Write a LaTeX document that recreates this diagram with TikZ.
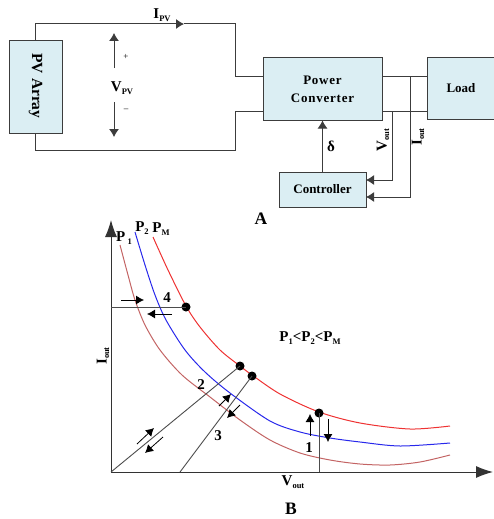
\documentclass[tikz,border=0pt]{standalone}
\usepackage{fontspec}
\setmainfont{Liberation Serif}
\usetikzlibrary{arrows.meta}
\definecolor{boxfill}{RGB}{219,238,243}
\definecolor{wirec}{RGB}{60,60,60}
\definecolor{pmc}{RGB}{238,50,50}
\definecolor{ptwo}{RGB}{40,40,235}
\definecolor{pone}{RGB}{195,100,100}
\newcommand\mysub[1]{\raisebox{-0.35ex}{\fontsize{8.5}{9}\selectfont #1}}
\begin{document}
\begin{tikzpicture}[x=1pt,y=-1pt,
  wire/.style={draw=wirec, line width=1pt},
  blk/.style={draw=wirec, fill=boxfill, line width=1pt, font=\bfseries\fontsize{13}{18}\selectfont, align=center, inner sep=0pt},
  arr/.style={-{Latex[length=8pt,width=10pt]}},
  bigarr/.style={-{Latex[length=17pt,width=12pt]}},
  sarr/.style={draw=black, line width=0.8pt, -{Latex[length=8pt,width=9pt]}},
  lbl/.style={font=\bfseries\fontsize{15}{17}\selectfont, inner sep=0pt},
  big/.style={font=\bfseries\fontsize{17.5}{20}\selectfont, inner sep=0pt},
  dot/.style={circle, fill=black, inner sep=0pt, minimum size=9pt},
  gline/.style={draw=black!70, line width=0.9pt},
  curve/.style={line width=1pt}]
\useasboundingbox (0,0) rectangle (493,519);

% ---------- Part A ----------
\node[blk, minimum width=53pt, minimum height=92pt] (pv) at (35.5,87) {};
\node[font=\bfseries\fontsize{15.5}{18}\selectfont, rotate=-90] (pvt) at (35.5,86) {PV Array};
\node[blk, minimum width=119pt, minimum height=62pt] (pc) at (322.5,89) {\addfontfeature{LetterSpace=6}Power\\\addfontfeature{LetterSpace=6}Converter};
\node[blk, minimum width=68pt, minimum height=61pt] (load) at (461,88.5) {Load};
\node[blk, minimum width=87pt, minimum height=35pt] (ctrl) at (322.5,189.5) {Controller};

\coordinate (t1) at (35.5,24);
\coordinate (ti) at (184,24);
\coordinate (t2) at (235,24);
\coordinate (t3) at (235,76);
\coordinate (t4) at (263,76);
\coordinate (b1) at (35.5,150);
\coordinate (b2) at (235,150);
\coordinate (b3) at (235,111);
\coordinate (b4) at (263,111);
\draw[wire, arr] (pv.north) -- (t1) -- (ti);
\draw[wire] (ti) -- (t2) -- (t3) -- (t4);
\draw[wire] (pv.south) -- (b1) -- (b2) -- (b3) -- (b4);

\node[lbl] (ipv) at (162,15) {I\mysub{PV}};
\coordinate (vu1) at (114,68);
\coordinate (vu2) at (114,33);
\coordinate (vd1) at (114,102);
\coordinate (vd2) at (114,137);
\draw[wire, arr] (vu1) -- (vu2);
\draw[wire, arr] (vd1) -- (vd2);
\node[font=\fontsize{9}{10}\selectfont] (plus) at (126,57) {+};
\node[lbl] (vpv) at (122,88) {V\mysub{PV}};
\node[font=\fontsize{9}{10}\selectfont] (minus) at (126,110) {--};

\coordinate (o1) at (382,76);
\coordinate (o2) at (382,111);
\coordinate (l1) at (427,76);
\coordinate (l2) at (427,111);
\draw[wire] (o1) -- (l1);
\draw[wire] (o2) -- (l2);
\coordinate (vt) at (392,111);
\coordinate (vc) at (366,180);
\coordinate (it) at (410,76);
\coordinate (ic) at (366,197);
\draw[wire, arr] (vt) |- (vc);
\draw[wire, arr] (it) |- (ic);
\draw[wire, arr] (ctrl.north) -- (pc.south);
\node[lbl, rotate=90] (voutl) at (383,140) {V\mysub{out}};
\node[lbl, rotate=90] (ioutl) at (418,137) {I\mysub{out}};
\node[lbl] (delta) at (331,146) {δ};
\node[big] (A) at (261,219) {A};

% ---------- Part B ----------
\coordinate (O) at (111,472);
\coordinate (ytip) at (111,220);
\coordinate (xtip) at (493,472);
\draw[line width=1pt, draw=black!80, bigarr] (O) -- (ytip);
\draw[line width=1pt, draw=black!80, bigarr] (O) -- (xtip);

\draw[curve, pone] plot[smooth] coordinates {(120,245) (128,275) (135,300) (145,325) (160,350) (182,375) (210,397) (240,420) (270,440) (300,453) (330,460) (360,464) (390,465) (420,462) (450,455)};
\draw[curve, ptwo] plot[smooth] coordinates {(135,232) (145,265) (155,295) (166,320) (185,350) (205,372) (230,393) (270,421) (300,432) (330,438) (360,442) (400,446) (450,443)};
\draw[curve, pmc] plot[smooth] coordinates {(153,237) (168,270) (186,306) (200,327) (220,350) (240,366) (252,375) (280,394) (319,412) (360,423) (410,429) (450,426)};

\node[lbl] (p1l) at (124,238) {P\,\mysub{1}};
\node[lbl] (p2l) at (142,228) {P\mysub{2}};
\node[lbl] (pml) at (161,229) {P\mysub{M}};

\node[dot] (d4) at (186,307) {};
\node[dot] (d2) at (240,366) {};
\node[dot] (d3) at (252,376) {};
\node[dot] (d1) at (319,413) {};
\coordinate (yv) at (111,307);
\coordinate (q) at (180,472);
\coordinate (xv) at (319,472);
\draw[gline] (yv) -- (d4.center);
\draw[gline] (O) -- (d2.center);
\draw[gline] (q) -- (d3.center);
\draw[gline] (d1.center) -- (xv);

\coordinate (a1s) at (121,300); \coordinate (a1e) at (144,300);
\coordinate (a2s) at (172,314); \coordinate (a2e) at (147,314);
\coordinate (a3s) at (137,444); \coordinate (a3e) at (154,428);
\coordinate (a4s) at (163,437); \coordinate (a4e) at (145,453);
\coordinate (a5s) at (219,406); \coordinate (a5e) at (231,394);
\coordinate (a6s) at (240,405); \coordinate (a6e) at (227,418);
\coordinate (a7s) at (310,436); \coordinate (a7e) at (310,414);
\coordinate (a8s) at (328,419); \coordinate (a8e) at (328,442);
\draw[sarr] (a1s) -- (a1e);
\draw[sarr] (a2s) -- (a2e);
\draw[sarr] (a3s) -- (a3e);
\draw[sarr] (a4s) -- (a4e);
\draw[sarr] (a5s) -- (a5e);
\draw[sarr] (a6s) -- (a6e);
\draw[sarr] (a7s) -- (a7e);
\draw[sarr] (a8s) -- (a8e);

\node[lbl] (n4) at (167,298) {4};
\node[lbl] (n2) at (201,385) {2};
\node[lbl] (n3) at (218,436) {3};
\node[lbl] (n1) at (309,448) {1};

\node[lbl, rotate=90] (iax) at (103,356) {I\mysub{out}};
\node[lbl] (vax) at (293,482) {V\mysub{out}};
\node[lbl] (rel) at (310,338) {P\mysub{1}<P\mysub{2}<P\mysub{M}};
\node[big] (B) at (291,509) {B};
\end{tikzpicture}
\end{document}
